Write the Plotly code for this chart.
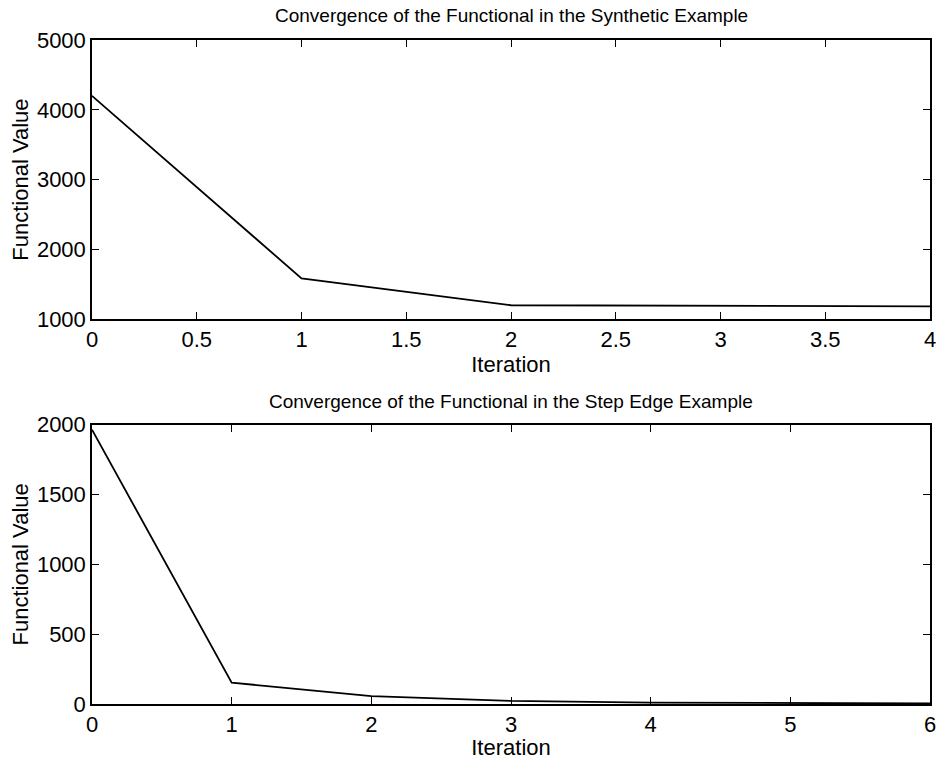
import plotly.graph_objects as go
from plotly.subplots import make_subplots

# Functional value per iteration, synthetic example
iter_synth = [0, 1, 2, 3, 4]
func_synth = [4200, 1585, 1200, 1190, 1185]

# Functional value per iteration, step edge example
iter_step = [0, 1, 2, 3, 4, 5, 6]
func_step = [1965, 153, 57, 22, 10, 6, 4]

title_synth = "Convergence of the Functional in the Synthetic Example"
title_step = "Convergence of the Functional in the Step Edge Example"

FONT = "Liberation Sans, Arial, Helvetica, sans-serif"

fig = make_subplots(rows=2, cols=1, vertical_spacing=0.159)

fig.add_trace(go.Scatter(x=iter_synth, y=func_synth, mode="lines",
                         line=dict(color="black", width=1.8)), row=1, col=1)
fig.add_trace(go.Scatter(x=iter_step, y=func_step, mode="lines",
                         line=dict(color="black", width=1.8)), row=2, col=1)

axis_common = dict(
    showline=True, linecolor="black", linewidth=1.5, mirror="ticks",
    ticks="inside", ticklen=7, tickwidth=1, tickcolor="black",
    showgrid=False, zeroline=False,
    tickfont=dict(family=FONT, size=22, color="black"),
    title_font=dict(family=FONT, size=22, color="black"),
)

fig.update_xaxes(axis_common)
fig.update_yaxes(axis_common)

fig.update_xaxes(range=[0, 4], tickvals=[0, 0.5, 1, 1.5, 2, 2.5, 3, 3.5, 4],
                 ticktext=["0", "0.5", "1", "1.5", "2", "2.5", "3", "3.5", "4"],
                 title_text="Iteration", title_standoff=0, row=1, col=1)
fig.update_yaxes(range=[1000, 5000], tickvals=[1000, 2000, 3000, 4000, 5000],
                 title_text="Functional Value", title_standoff=2, row=1, col=1)
fig.update_xaxes(range=[0, 6], tickvals=list(range(7)),
                 title_text="Iteration", title_standoff=0, row=2, col=1)
fig.update_yaxes(range=[0, 2000], tickvals=[0, 500, 1000, 1500, 2000],
                 title_text="Functional Value", title_standoff=2, row=2, col=1)

fig.add_annotation(text=title_synth, xref="paper", yref="paper", x=0.5, y=1.0,
                   yshift=25, showarrow=False, xanchor="center", yanchor="middle",
                   font=dict(family=FONT, size=19, color="black"))
fig.add_annotation(text=title_step, xref="paper", yref="paper", x=0.5, y=0.4187,
                   yshift=24, showarrow=False, xanchor="center", yanchor="middle",
                   font=dict(family=FONT, size=19, color="black"))

fig.update_layout(
    width=943, height=760,
    margin=dict(l=92, r=7, t=40, b=56),
    paper_bgcolor="white", plot_bgcolor="white",
    showlegend=False,
)

fig.write_html("out.html")
